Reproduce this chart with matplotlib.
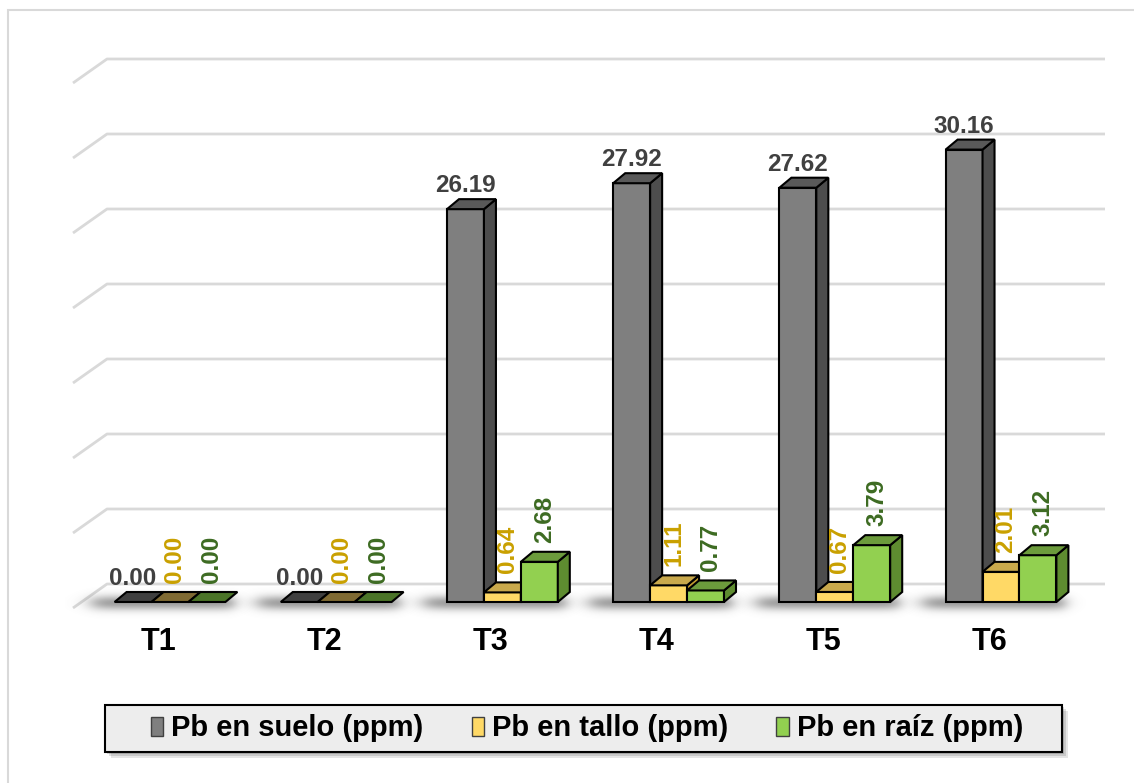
import numpy as np
import matplotlib
matplotlib.use("Agg")
import matplotlib.pyplot as plt
from matplotlib.patches import Polygon, Rectangle

plt.rcParams['font.family'] = ['Liberation Sans', 'DejaVu Sans']

# datos
categorias = ["T1", "T2", "T3", "T4", "T5", "T6"]
pb_suelo = [0.00, 0.00, 26.19, 27.92, 27.62, 30.16]
pb_tallo = [0.00, 0.00, 0.64, 1.11, 0.67, 2.01]
pb_raiz = [0.00, 0.00, 2.68, 0.77, 3.79, 3.12]
series_nombres = ["Pb en suelo (ppm)", "Pb en tallo (ppm)", "Pb en raíz (ppm)"]
y_ticks = [0, 5, 10, 15, 20, 25, 30, 35]

# estilo de las caras (frente, lado, tapa)
frente = ["#7F7F7F", "#FFD966", "#92D050"]
lado = ["#4D4D4D", "#BF9B30", "#5E8C30"]
tapa = ["#595959", "#C9A94C", "#6C9B3C"]
tapa_cero = ["#3F3F3F", "#7F6A33", "#4B7428"]
color_etiq = ["#404040", "#C9A000", "#3D6B22"]

# geometria en pixeles de la figura
W, H = 1134, 783
PX_X = 166.2          # pixeles por categoria
PX_Y = 15.0           # pixeles por ppm
X0_PX, Y0_PX = 170, 602
DX, DY = 12 / PX_X, 10 / PX_Y   # profundidad de las barras
ANCHO = 1 / 4.5                 # gap width 150 %

fig = plt.figure(figsize=(W / 100, H / 100), dpi=100)
ax = fig.add_axes([60 / W, (H - 620) / H, 1060 / W, 590 / H])
ax.set_xlim((60 - X0_PX) / PX_X, (1120 - X0_PX) / PX_X)
ax.set_ylim((Y0_PX - 620) / PX_Y, (Y0_PX - 30) / PX_Y)
for s in ax.spines.values():
    s.set_visible(False)
ax.set_yticks([])

# lineas de la pared del fondo + piso
xs_grid = [(73 - X0_PX) / PX_X, (107 - X0_PX) / PX_X, (1105 - X0_PX) / PX_X]
for v in y_ticks:
    yb = v + 18 / PX_Y
    ax.plot(xs_grid, [yb - 24 / PX_Y, yb, yb], color="#D9D9D9", lw=2,
            solid_capstyle="butt", zorder=1)

series = [pb_suelo, pb_tallo, pb_raiz]
n = len(series)

# sombra suave bajo cada grupo
for c in range(len(categorias)):
    xl = c - n * ANCHO / 2
    xr = c + n * ANCHO / 2 + DX
    ext = [xl - 0.3, xr + 0.12, -1.3, 1.0]
    gx = np.linspace(ext[0], ext[1], 160)
    gy = np.linspace(ext[2], ext[3], 50)
    ax_x = 0.5 * (np.tanh((gx - (xl - 0.14)) / 0.07) - np.tanh((gx - (xr - 0.02)) / 0.05))
    ax_y = np.exp(-((gy + 0.05) / 0.5) ** 2)
    alpha = 0.65 * np.outer(ax_y, ax_x)
    img = np.zeros((len(gy), len(gx), 4))
    img[..., :3] = 0.42
    img[..., 3] = alpha
    ax.imshow(img, extent=ext, origin="lower", aspect="auto", zorder=2,
              interpolation="bilinear")

# barras 3D
z = 3
for c in range(len(categorias)):
    for i, vals in enumerate(series):
        v = vals[c]
        x = c - n * ANCHO / 2 + i * ANCHO
        kw = dict(ec="black", lw=1.5, joinstyle="miter", zorder=z)
        if v > 0:
            ax.add_patch(Rectangle((x, 0), ANCHO, v, fc=frente[i], **kw))
            ax.add_patch(Polygon([(x + ANCHO, 0), (x + ANCHO + DX, DY),
                                  (x + ANCHO + DX, v + DY), (x + ANCHO, v)],
                                 fc=lado[i], **kw))
            fc_top = tapa[i]
        else:
            fc_top = tapa_cero[i]
        ax.add_patch(Polygon([(x, v), (x + ANCHO, v), (x + ANCHO + DX, v + DY),
                              (x + DX, v + DY)], fc=fc_top, **kw))
        z += 1

        # etiquetas de valor
        if i == 0:
            ax.annotate(f"{v:.2f}", (x + ANCHO / 2, v), xytext=(0, 17),
                        textcoords="offset pixels", ha="center", va="baseline",
                        fontsize=17.5, fontweight="bold", color=color_etiq[i],
                        zorder=100)
        else:
            ax.annotate(f"{v:.2f}", (x + ANCHO / 2, v), xytext=(5, 19),
                        textcoords="offset pixels", ha="center", va="bottom",
                        rotation=90, fontsize=17.5, fontweight="bold",
                        color=color_etiq[i], zorder=100)

ax.set_xticks([c - 0.07 for c in range(len(categorias))], categorias,
              fontsize=22, fontweight="bold")
ax.tick_params(axis="x", length=0, pad=5)

# borde exterior del grafico
fig.add_artist(Rectangle((8 / W, -0.1), 2, 1.1 - 10 / H, transform=fig.transFigure,
                         fc="none", ec="#D9D9D9", lw=1.5))

# leyenda con marco y sombra
lx0, lx1, ly0, ly1 = 105, 1062, 705, 752
for k, a in enumerate([0.10, 0.12, 0.15]):
    off = 6 - 2 * k
    fig.add_artist(Rectangle(((lx0 + off) / W, (H - ly1 - off) / H),
                             (lx1 - lx0) / W, (ly1 - ly0) / H,
                             transform=fig.transFigure, fc="black", ec="none",
                             alpha=a))
fig.add_artist(Rectangle((lx0 / W, (H - ly1) / H), (lx1 - lx0) / W, (ly1 - ly0) / H,
                         transform=fig.transFigure, fc="#EDEDED", ec="black", lw=1.5))
handles = [Rectangle((0, 0), 1, 1, fc=frente[i], ec="#404040", lw=1) for i in range(n)]
leg = fig.legend(handles, series_nombres, loc="center",
                 bbox_to_anchor=((lx0 + lx1) / 2 / W + 0.003, 1 - (ly0 + ly1) / 2 / H),
                 ncol=3, frameon=False, prop=dict(size=21, weight="bold"),
                 handlelength=0.42, handleheight=0.65, handletextpad=0.28,
                 columnspacing=1.65, borderpad=0)

fig.savefig("out.png", dpi=100)
